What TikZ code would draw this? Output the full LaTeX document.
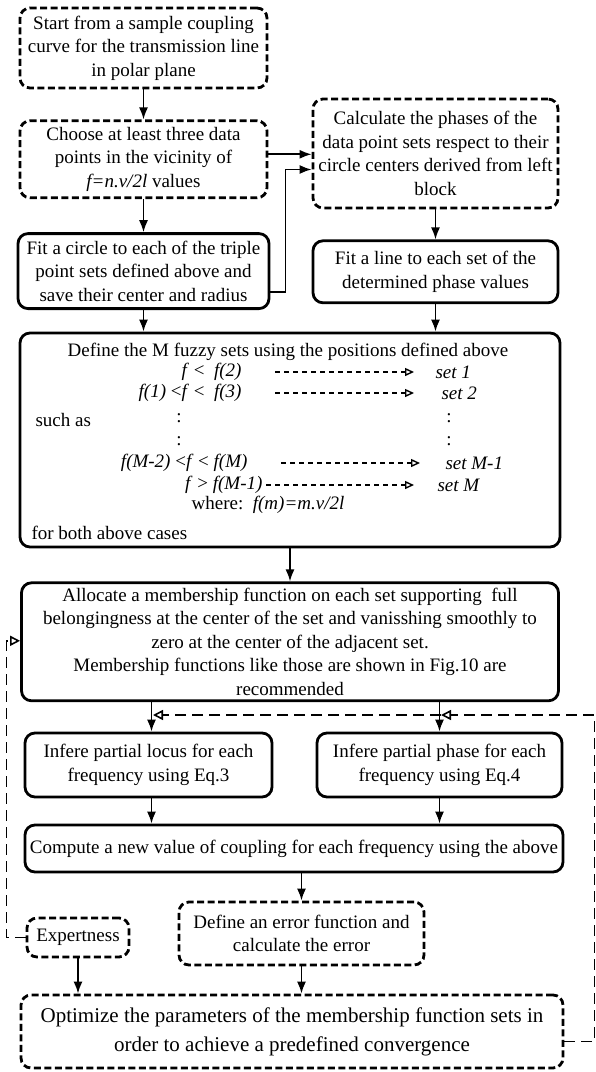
\documentclass[tikz,border=0pt]{standalone}
\usepackage{fontspec}
\setmainfont{Liberation Serif}
\usetikzlibrary{arrows.meta,positioning}

\begin{document}
\begin{tikzpicture}[
  x=1pt, y=-1pt,
  font=\fontsize{19}{23.5}\selectfont,
  box/.style={rounded corners=10pt,line width=2.8pt,align=center,inner sep=2pt},
  sbox/.style={box,draw},
  dbox/.style={box,draw,dash pattern=on 7pt off 3.5pt},
  flow/.style={-{Latex[length=12pt,width=9pt]},line width=1.7pt},
  fb/.style={-{Triangle[open,length=10pt,width=10pt,line width=1.6pt]},line width=1.5pt,dash pattern=on 11pt off 6pt},
  setflow/.style={-{Triangle[open,length=9pt,width=8pt,line width=1.4pt]},line width=1.5pt,dash pattern=on 5pt off 4pt}
]
\fill[white] (0,0) rectangle (596,1072);

% left column / right column
\node[dbox,minimum width=247pt,minimum height=80pt] (start) at (143.5,48)
  {Start from a sample coupling\\curve for the transmission line\\in polar plane};
\node[dbox,minimum width=247pt,minimum height=77pt,below=30pt of start] (choose)
  {Choose at least three data\\points in the vicinity of\\\textit{f=n.v/2l} values};
\node[dbox,minimum width=245pt,minimum height=109pt] (calc) at (435.5,153.5)
  {Calculate the phases of the\\data point sets respect to their\\circle centers derived from left\\block};
\node[sbox,minimum width=251pt,minimum height=75pt,below=33pt of choose] (circfit)
  {Fit a circle to each of the triple\\point sets defined above and\\save their center and radius};
\node[sbox,minimum width=245pt,minimum height=62pt,below=30pt of calc] (linefit)
  {Fit a line to each set of the\\determined phase values};

% fuzzy sets
\node[sbox,minimum width=540pt,minimum height=214pt] (fuzzy) at (290,440) {};
\node (ftitle) at (288,352) {Define the M fuzzy sets using the positions defined above};
\node[anchor=east] (r1) at (245,372) {\textit{f} < \ \textit{f(2)}};
\node[anchor=east] (r2) at (245,393) {\textit{f(1)} <\textit{f} < \ \textit{f(3)}};
\node[anchor=west] (such) at (32,420) {such as};
\node (d1) at (179,418) {:};
\node (d2) at (179,441) {:};
\node[anchor=east] (r3) at (251,463) {\textit{f(M-2)} <\textit{f} < \textit{f(M)}};
\node[anchor=east] (r4) at (266,485) {\textit{f} > \textit{f(M-1)}};
\node[anchor=west] (s1) at (432,372) {\textit{set 1}};
\node[anchor=west] (s2) at (438,393) {\textit{set 2}};
\node (e1) at (449,418) {:};
\node (e2) at (449,441) {:};
\node[anchor=west] (s3) at (442,463) {\textit{set M-1}};
\node[anchor=west] (s4) at (434,485) {\textit{set M}};
\node (where) at (268,505) {where:\ \ \textit{f(m)=m.v/2l}};
\node[anchor=west] (both) at (28,533) {for both above cases};
\coordinate (ax) at (275,0);
\coordinate (bx) at (414,0);
\draw[setflow] (r1.east -| ax) -- (s1.west -| bx);
\draw[setflow] (r2.east -| ax) -- (s2.west -| bx);
\draw[setflow] ([xshift=6pt]r3.east -| ax) -- ([xshift=6pt]s3.west -| bx);
\draw[setflow] (r4.east) -- (s4.west -| bx);

\node[sbox,minimum width=537pt,minimum height=118pt,below=33pt of fuzzy] (alloc)
  {Allocate a membership function on each set supporting\ \ full\\belongingness at the center of the set and vanisshing smoothly to\\zero at the center of the adjacent set.\\Membership functions like those are shown in Fig.10 are\\recommended};
\node[sbox,minimum width=247pt,minimum height=64pt] (locus) at (148.5,765)
  {Infere partial locus for each\\frequency using Eq.3};
\node[sbox,minimum width=245pt,minimum height=64pt] (phase) at (439.5,765)
  {Infere partial phase for each\\frequency using Eq.4};
\node[sbox,minimum width=538pt,minimum height=47pt] (comp) at (294,848.5)
  {Compute a new value of coupling for each frequency using the above};
\node[dbox,minimum width=245pt,minimum height=63pt] (err) at (301.5,933.5)
  {Define an error function and\\calculate the error};
\node[dbox,minimum width=102pt,minimum height=39pt] (expert) at (78,937.5) {Expertness};
\node[dbox,minimum width=542pt,minimum height=73pt,font=\fontsize{21}{29}\selectfont] (opt) at (292,1031.5)
  {Optimize the parameters of the membership function sets in\\order to achieve a predefined convergence};

% main flow
\draw[flow] (start) -- (choose);
\draw[flow] ([yshift=5pt]choose.east) -- ([yshift=5pt]choose.east -| calc.west);
\draw[flow] ([yshift=-21pt]circfit.east) -- ++(15,0) |- ([yshift=-16pt]calc.west);
\draw[flow] (choose) -- (circfit);
\draw[flow] (calc) -- (linefit);
\draw[flow] (circfit.south) -- (circfit.south |- fuzzy.north);
\draw[flow] (linefit.south) -- (linefit.south |- fuzzy.north);
\draw[flow] (fuzzy) -- (alloc);
\draw[flow] ([xshift=3pt]locus.north |- alloc.south) -- ([xshift=3pt]locus.north);
\draw[flow] (phase.north |- alloc.south) -- (phase.north);
\draw[flow] ([xshift=3pt]locus.south) -- ([xshift=3pt]locus.south |- comp.north);
\draw[flow] (phase.south) -- (phase.south |- comp.north);
\draw[flow] (err.north |- comp.south) -- (err.north);
\draw[flow] (expert.south) -- (expert.south |- opt.north);
\draw[flow] (err.south) -- (err.south |- opt.north);

% feedback
\coordinate (fbr) at (441,715);
\coordinate (fbl) at (153,715);
\draw[fb] (expert.west) -- ++(-19,0) |- ([yshift=1pt]alloc.west);
\draw[fb] ([yshift=-10pt]opt.east) -- ++(30,0) |- (fbr);
\draw[fb] (fbr) -- (fbl);
\end{tikzpicture}
\end{document}
